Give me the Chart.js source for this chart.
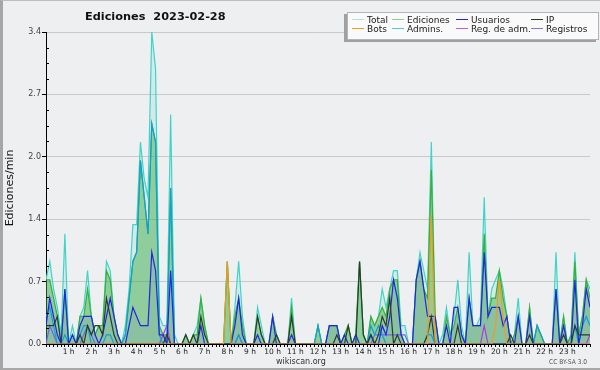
<!DOCTYPE html>
<html>
<head>
<meta charset="utf-8">
<script src="https://cdn.jsdelivr.net/npm/chart.js@4.4.1/dist/chart.umd.min.js"></script>
<style>
  html, body { margin: 0; padding: 0; }
  body { width: 600px; height: 370px; background: #eeeff1; position: relative; overflow: hidden; font-family: 'DejaVu Sans', sans-serif; }
  #frame { position: absolute; left: 0; top: 0; width: 597px; height: 367px; border-left: 3px solid #a6a6a6; border-top: 1px solid #bdbdbd; border-bottom: 2px solid #a8a8a8; }
  #chart { position: absolute; left: 0; top: 0; }
  #title { position: absolute; left: 85px; top: 10px; font: bold 11.3px 'DejaVu Sans', sans-serif; line-height: 13px; color: #111; white-space: pre; }
  #legend { position: absolute; left: 347px; top: 12px; width: 250px; height: 26px; background: #fafafa; border: 1px solid #b4b4b4; box-shadow: -3px 2px 0 #a0a0a0; }
  .item { position: absolute; font-size: 9px; line-height: 9px; color: #1a1a1a; white-space: nowrap; }
  .item i { display: inline-block; width: 12px; height: 1px; vertical-align: middle; margin-right: 3px; position: relative; top: -1px; }
  #site { position: absolute; left: 276px; top: 357px; font-size: 8px; line-height: 9px; color: #333; }
  #cc { position: absolute; left: 549px; top: 359px; font: 6.6px 'DejaVu Sans Condensed', sans-serif; line-height: 7px; color: #555; }
</style>
</head>
<body>
<div id="frame"></div>
<canvas id="chart" width="600" height="370"></canvas>
<div id="title">Ediciones  2023-02-28</div>
<div id="legend"></div>
<div id="site">wikiscan.org</div>
<div id="cc">CC BY-SA 3.0</div>
<script>
// --- Data: one value per 10-minute slot, 00:00 .. 24:00 (edits per minute) ---
const slotMinutes = 10;
const hourLabels = ['1 h', '2 h', '3 h', '4 h', '5 h', '6 h', '7 h', '8 h', '9 h', '10 h', '11 h', '12 h',
  '13 h', '14 h', '15 h', '16 h', '17 h', '18 h', '19 h', '20 h', '21 h', '22 h', '23 h'];
const yTickValues = [0, 0.68, 1.36, 2.04, 2.72, 3.4];

const total = [
  0.7, 0.9, 0.6, 0.4, 0.1, 1.2,
  0, 0.2, 0, 0.3, 0.4, 0.8,
  0.3, 0.1, 0.2, 0.2, 0.9, 0.8,
  0.3, 0.1, 0, 0.2, 0.6, 1.3,
  1.3, 2.2, 1.8, 1.6, 3.4, 3.0,
  0.3, 0.2, 0.2, 2.5, 0.1, 0,
  0, 0.1, 0, 0.1, 0.2, 0.5,
  0.2, 0, 0, 0, 0, 0,
  0.9, 0, 0.4, 0.9, 0.3, 0,
  0, 0, 0.4, 0.2, 0, 0,
  0.3, 0.1, 0, 0, 0, 0.5,
  0, 0, 0, 0, 0, 0,
  0.2, 0, 0, 0.2, 0.2, 0.2,
  0, 0.1, 0.2, 0, 0.1, 0.9,
  0.1, 0, 0.3, 0.2, 0.3, 0.6,
  0.4, 0.6, 0.8, 0.8, 0.2, 0.2,
  0, 0, 0.7, 1.0, 0.8, 0.6,
  2.2, 0.3, 0, 0.1, 0.4, 0.1,
  0.3, 0.7, 0.2, 0, 1.0, 0.2,
  0.2, 0.3, 1.6, 0.3, 0.6, 0.7,
  0.8, 0.6, 0.3, 0, 0.1, 0.5,
  0, 0, 0.4, 0, 0.2, 0.1,
  0, 0, 0, 1.0, 0, 0.3,
  0, 0.1, 1.0, 0.1, 0.3, 0.7,
  0.6
];

const ediciones = [
  0.7, 0.7, 0.5, 0.3, 0, 0.6,
  0, 0.1, 0, 0.3, 0.3, 0.6,
  0.3, 0.1, 0.2, 0.2, 0.8, 0.7,
  0.3, 0.1, 0, 0.1, 0.5, 0.9,
  1.0, 2.0, 1.6, 1.2, 2.4, 2.2,
  0.2, 0.1, 0.1, 1.7, 0, 0,
  0, 0.1, 0, 0.1, 0.1, 0.5,
  0.2, 0, 0, 0, 0, 0,
  0.9, 0, 0.3, 0.5, 0.2, 0,
  0, 0, 0.3, 0.1, 0, 0,
  0.3, 0.1, 0, 0, 0, 0.4,
  0, 0, 0, 0, 0, 0,
  0.2, 0, 0, 0.2, 0.2, 0.2,
  0, 0.1, 0.2, 0, 0.1, 0.9,
  0.1, 0, 0.3, 0.2, 0.3, 0.4,
  0.3, 0.6, 0.7, 0.7, 0.1, 0,
  0, 0, 0.7, 0.9, 0.6, 0.5,
  1.9, 0.3, 0, 0, 0.3, 0.1,
  0.2, 0.4, 0.1, 0, 0.5, 0.2,
  0.2, 0.2, 1.2, 0.3, 0.5, 0.5,
  0.8, 0.5, 0.3, 0, 0.1, 0.3,
  0, 0, 0.4, 0, 0.2, 0.1,
  0, 0, 0, 0.6, 0, 0.3,
  0, 0.1, 0.9, 0.1, 0.3, 0.7,
  0.5
];

const usuarios = [
  0.2, 0.5, 0.3, 0.1, 0, 0.6,
  0, 0.1, 0, 0.2, 0.3, 0.3,
  0.3, 0.1, 0, 0.1, 0.3, 0.5,
  0.3, 0.1, 0, 0, 0.2, 0.4,
  0.3, 0.2, 0.2, 0.2, 1.0, 0.8,
  0.1, 0.1, 0, 0.8, 0, 0,
  0, 0, 0, 0, 0, 0.2,
  0, 0, 0, 0, 0, 0,
  0, 0, 0.2, 0.5, 0.1, 0,
  0, 0, 0.1, 0, 0, 0,
  0.3, 0, 0, 0, 0, 0.1,
  0, 0, 0, 0, 0, 0,
  0, 0, 0, 0.2, 0.2, 0.2,
  0, 0.1, 0, 0, 0.1, 0,
  0, 0, 0.1, 0, 0, 0.2,
  0.1, 0.3, 0.7, 0.5, 0.1, 0,
  0, 0, 0.7, 0.9, 0.6, 0.3,
  0.3, 0.3, 0, 0, 0.2, 0,
  0.4, 0.4, 0.1, 0, 0.5, 0.2,
  0.2, 0.2, 1.0, 0.3, 0.4, 0.4,
  0.4, 0.2, 0.3, 0, 0, 0.3,
  0, 0, 0.3, 0, 0, 0,
  0, 0, 0, 0.6, 0, 0.2,
  0, 0, 0.7, 0, 0.2, 0.6,
  0.4
];

const ip = [
  0.2, 0.2, 0.2, 0.3, 0, 0,
  0, 0, 0, 0.1, 0, 0.2,
  0.1, 0.2, 0.2, 0.1, 0.5, 0.3,
  0.1, 0, 0, 0, 0, 0,
  0, 0, 0, 0, 0, 0,
  0, 0, 0.1, 0, 0, 0,
  0, 0.1, 0, 0.1, 0, 0.3,
  0.1, 0, 0, 0, 0, 0,
  0, 0, 0, 0, 0, 0,
  0, 0, 0.3, 0.1, 0, 0,
  0, 0.1, 0, 0, 0, 0.3,
  0, 0, 0, 0, 0, 0,
  0, 0, 0, 0, 0, 0.1,
  0, 0, 0.2, 0, 0, 0.9,
  0.1, 0, 0.1, 0, 0.1, 0.3,
  0.2, 0.5, 0, 0.1, 0, 0,
  0, 0, 0, 0, 0, 0.1,
  0.3, 0, 0, 0, 0, 0,
  0, 0.2, 0, 0, 0, 0,
  0, 0, 0, 0, 0, 0,
  0, 0, 0, 0.1, 0, 0,
  0, 0, 0.1, 0, 0, 0,
  0, 0, 0, 0, 0, 0.1,
  0, 0, 0.2, 0.1, 0.1, 0.1,
  0.1
];

const bots = [
  0, 0, 0, 0, 0, 0,
  0, 0, 0, 0, 0, 0,
  0, 0, 0, 0, 0, 0,
  0, 0, 0, 0, 0, 0,
  0, 0, 0, 0, 0, 0,
  0, 0, 0, 0, 0, 0,
  0, 0, 0, 0, 0, 0,
  0, 0, 0, 0, 0, 0,
  0.9, 0, 0, 0, 0, 0,
  0, 0, 0, 0, 0, 0,
  0, 0, 0, 0, 0, 0,
  0, 0, 0, 0, 0, 0,
  0, 0, 0, 0, 0, 0,
  0, 0, 0, 0, 0, 0,
  0, 0, 0, 0, 0, 0,
  0, 0, 0, 0, 0, 0,
  0, 0, 0, 0, 0, 0,
  1.4, 0, 0, 0, 0, 0,
  0, 0, 0, 0, 0, 0,
  0, 0, 0, 0, 0, 0.2,
  0.7, 0.3, 0, 0, 0, 0,
  0, 0, 0, 0, 0, 0,
  0, 0, 0, 0, 0, 0,
  0, 0, 0, 0, 0, 0,
  0
];

const admins = [
  0.3, 0.4, 0.2, 0, 0, 0.1,
  0, 0, 0, 0.1, 0.2, 0.2,
  0, 0, 0, 0, 0.1, 0.1,
  0, 0, 0, 0.1, 0.5, 0.9,
  1.0, 2.0, 1.6, 1.2, 2.4, 2.2,
  0.1, 0, 0, 1.7, 0, 0,
  0, 0, 0, 0, 0, 0,
  0, 0, 0, 0, 0, 0,
  0, 0, 0, 0.1, 0, 0,
  0, 0, 0, 0, 0, 0,
  0, 0, 0, 0, 0, 0,
  0, 0, 0, 0, 0, 0,
  0.2, 0, 0, 0, 0, 0,
  0, 0, 0, 0, 0, 0,
  0, 0, 0.2, 0.1, 0.2, 0.1,
  0, 0, 0, 0, 0, 0,
  0, 0, 0, 0, 0, 0.1,
  0.1, 0, 0, 0, 0, 0,
  0, 0, 0, 0, 0, 0,
  0, 0, 0, 0, 0, 0,
  0, 0, 0, 0, 0, 0,
  0, 0, 0, 0, 0.2, 0.1,
  0, 0, 0, 0, 0, 0,
  0, 0, 0.2, 0, 0.2, 0.3,
  0.2
];

const regAdm = [
  0, 0, 0, 0, 0, 0,
  0, 0, 0, 0, 0, 0,
  0, 0, 0, 0, 0, 0,
  0, 0, 0, 0, 0, 0,
  0, 0, 0, 0, 0, 0,
  0, 0.1, 0.2, 0, 0, 0,
  0, 0, 0, 0, 0, 0,
  0, 0, 0, 0, 0, 0,
  0, 0, 0, 0, 0, 0,
  0, 0, 0, 0, 0, 0,
  0, 0, 0, 0, 0, 0,
  0, 0, 0, 0, 0, 0,
  0, 0, 0, 0, 0, 0,
  0, 0, 0, 0, 0, 0,
  0, 0, 0, 0, 0, 0,
  0, 0, 0, 0, 0, 0,
  0, 0, 0, 0, 0, 0,
  0, 0, 0, 0, 0, 0,
  0, 0, 0, 0, 0, 0,
  0, 0, 0.2, 0, 0, 0,
  0, 0, 0, 0, 0, 0,
  0, 0, 0, 0, 0, 0,
  0, 0, 0, 0, 0, 0,
  0, 0, 0, 0, 0, 0,
  0.1
];

const registros = [
  0, 0.2, 0.1, 0, 0, 0,
  0, 0, 0, 0, 0.1, 0.2,
  0.1, 0, 0, 0, 0, 0,
  0, 0, 0, 0, 0, 0,
  0, 0, 0, 0, 0, 0,
  0, 0, 0, 0, 0, 0,
  0, 0, 0, 0, 0, 0,
  0, 0, 0, 0, 0, 0,
  0, 0, 0, 0.1, 0, 0,
  0, 0, 0, 0, 0, 0,
  0, 0, 0, 0, 0, 0,
  0, 0, 0, 0, 0, 0,
  0, 0, 0, 0, 0, 0,
  0, 0, 0, 0, 0, 0,
  0, 0, 0, 0.1, 0.1, 0.1,
  0.1, 0.1, 0.1, 0.1, 0.1, 0.1,
  0, 0, 0, 0, 0, 0,
  0, 0, 0, 0, 0, 0,
  0, 0, 0, 0, 0, 0,
  0, 0, 0, 0, 0, 0,
  0, 0, 0, 0, 0, 0,
  0, 0, 0, 0, 0, 0,
  0, 0, 0, 0, 0, 0,
  0, 0, 0, 0, 0, 0,
  0
];

// --- Series styling (draw order: first = on top) ---
const series = [
  { label: 'Bots', data: bots, color: '#f39a1a' },
  { label: 'IP', data: ip, color: '#2c3a2c' },
  { label: 'Usuarios', data: usuarios, color: '#2323e6', fill: 'rgba(40,40,230,0.07)' },
  { label: 'Admins.', data: admins, color: '#139fd6', swatch: '#4cc6e2' },
  { label: 'Reg. de adm.', data: regAdm, color: '#b23ad8', swatch: '#c65ae0' },
  { label: 'Registros', data: registros, color: '#6a6ae2', swatch: '#7a7ae6' },
  { label: 'Ediciones', data: ediciones, color: '#38b038', fill: 'rgba(40,160,40,0.40)', swatch: '#8fd08f' },
  { label: 'Total', data: total, color: '#40d4c8', fill: 'rgba(64,208,192,0.15)', swatch: '#a8e6de' },
];
const legendOrder = ['Total', 'Ediciones', 'Usuarios', 'IP', 'Bots', 'Admins.', 'Reg. de adm.', 'Registros'];

// --- Legend (HTML, 2 rows x 4 columns) ---
const legendCols = [4, 44, 108, 183];
const legendEl = document.getElementById('legend');
legendOrder.forEach((name, i) => {
  const s = series.find(d => d.label === name);
  const el = document.createElement('div');
  el.className = 'item';
  el.style.left = legendCols[i % 4] + 'px';
  el.style.top = (i < 4 ? 3 : 12) + 'px';
  el.innerHTML = '<i style="background:' + (s.swatch || s.color) + '"></i>' + name;
  legendEl.appendChild(el);
});

// --- Minor ticks inside the y axis ---
const minorTicks = {
  id: 'minorTicks',
  afterDraw(chart) {
    const ys = chart.scales.y, ctx = chart.ctx, left = chart.chartArea.left;
    ctx.save();
    ctx.strokeStyle = '#000';
    ctx.lineWidth = 1;
    for (let k = 1; k < yTickValues.length; k++) {
      const step = (yTickValues[k] - yTickValues[k - 1]) / 4;
      for (let j = 1; j < 4; j++) {
        const py = Math.round(ys.getPixelForValue(yTickValues[k - 1] + j * step)) + 0.5;
        ctx.beginPath();
        ctx.moveTo(left, py);
        ctx.lineTo(left + 3, py);
        ctx.stroke();
      }
    }
    ctx.restore();
  }
};

const lastMinute = (total.length - 1) * slotMinutes;

new Chart(document.getElementById('chart'), {
  type: 'line',
  data: {
    datasets: series.map(s => ({
      label: s.label,
      data: s.data.map((v, i) => ({ x: i * slotMinutes, y: v })),
      borderColor: s.color,
      backgroundColor: s.fill || 'transparent',
      fill: s.fill ? 'origin' : false,
      borderWidth: 1.2,
      pointRadius: 0,
      tension: 0,
    }))
  },
  options: {
    responsive: false,
    animation: false,
    devicePixelRatio: 1,
    layout: { padding: { top: 32, right: 10, left: 0, bottom: 0 } },
    plugins: {
      legend: { display: false },
      tooltip: { enabled: false },
      filler: { drawTime: 'beforeDatasetsDraw' },
    },
    scales: {
      x: {
        type: 'linear',
        min: 0,
        max: lastMinute,
        afterBuildTicks: s => {
          s.ticks = [];
          for (let m = 0; m <= lastMinute; m += slotMinutes) s.ticks.push({ value: m });
        },
        afterFit: s => { s.height = 26; },
        grid: { drawOnChartArea: false, drawTicks: true, tickLength: 3, tickColor: '#000' },
        border: { color: '#000', width: 1 },
        ticks: {
          autoSkip: false,
          maxRotation: 0,
          minRotation: 0,
          padding: 1,
          color: '#222',
          font: { family: 'DejaVu Sans', size: 7.5 },
          callback: v => (v % 60 === 0 && v > 0 && v < lastMinute) ? hourLabels[v / 60 - 1] : ''
        }
      },
      y: {
        min: 0,
        max: 3.4,
        afterBuildTicks: s => { s.ticks = yTickValues.map(v => ({ value: v })); },
        afterFit: s => { s.width = 46; },
        grid: { color: '#c9c9c9', tickColor: '#000', tickLength: 4, drawTicks: true },
        border: { color: '#000', width: 1 },
        ticks: {
          padding: 1,
          color: '#444',
          font: { family: 'DejaVu Sans', size: 8 },
          callback: v => v.toFixed(1)
        },
        title: {
          display: true,
          text: 'Ediciones/min',
          color: '#111',
          font: { family: 'DejaVu Sans', size: 11 },
          padding: { top: 4, bottom: 0 }
        }
      }
    }
  },
  plugins: [minorTicks]
});
</script>
</body>
</html>
